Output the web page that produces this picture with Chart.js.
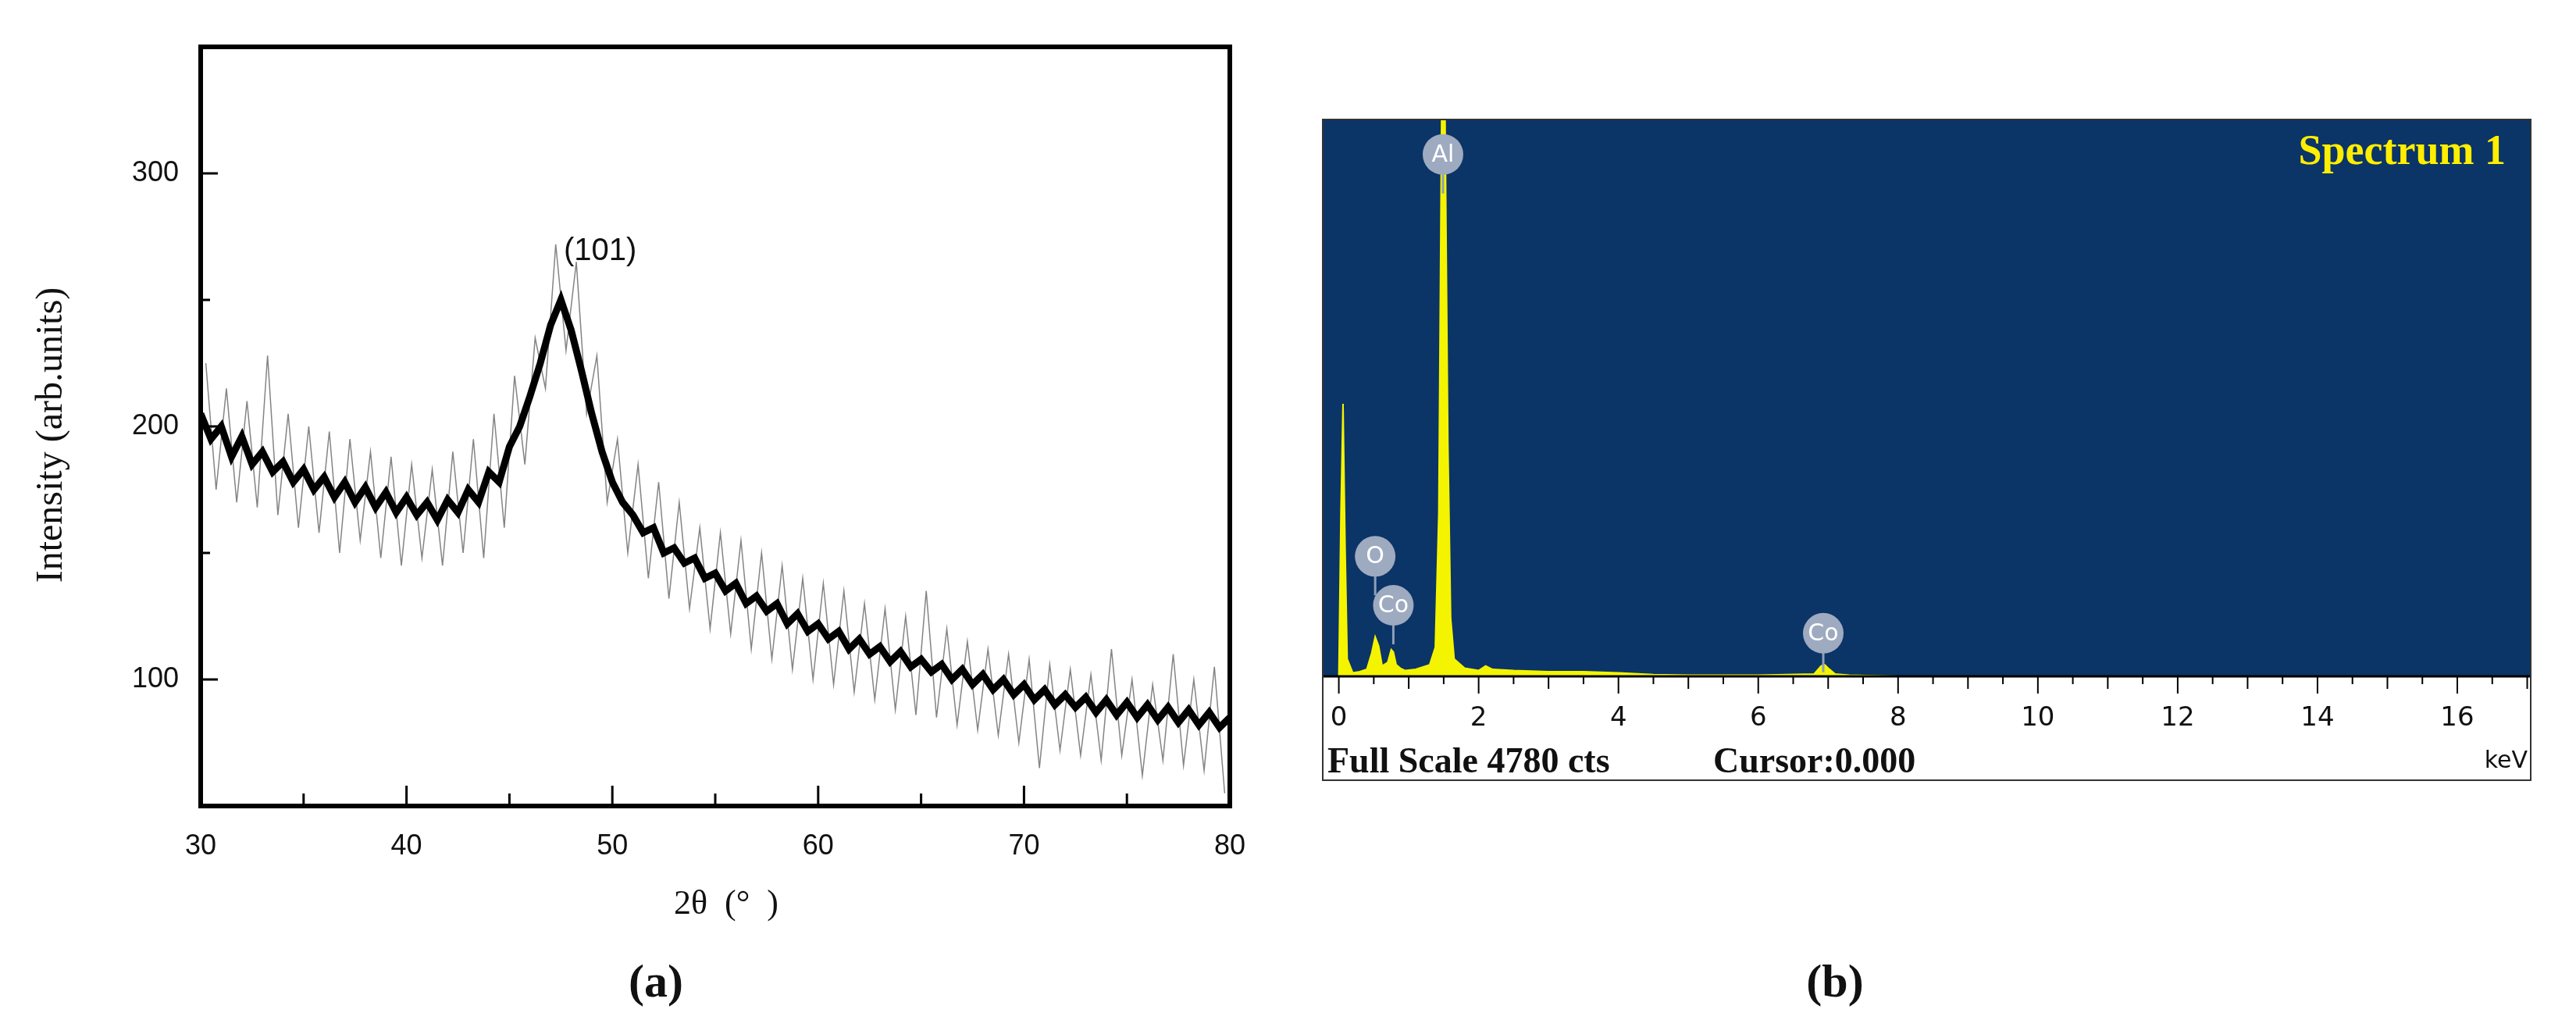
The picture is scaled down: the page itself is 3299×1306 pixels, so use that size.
<!DOCTYPE html>
<html><head><meta charset="utf-8">
<script src="https://cdn.jsdelivr.net/npm/chart.js@4/dist/chart.umd.min.js"></script>
<style>
html,body{margin:0;padding:0;background:#fff;}
#wrap{position:relative;width:3299px;height:1306px;}
canvas{position:absolute;top:0;}
</style></head><body>
<div id="wrap">
<canvas id="c1" style="left:0;width:1650px;height:1306px" width="1650" height="1306"></canvas>
<canvas id="c2" style="left:1650px;width:1649px;height:1306px" width="1649" height="1306"></canvas>
</div>
<script>
// ---------- XRD data (a) ----------
const xrdAngles = []; for (let i = 0; i <= 100; i++) xrdAngles.push(30 + i * 0.5);
const xrdIntensity = [
205,195,200,188,196,185,190,182,186,178,
183,175,180,172,178,170,176,168,174,166,
172,165,170,163,171,166,175,170,182,178,
192,200,212,225,240,250,238,222,205,190,
178,170,165,158,160,150,152,146,148,140,
142,135,138,130,133,127,130,122,126,119,
122,116,119,112,116,110,113,107,111,105,
108,103,106,100,104,98,102,96,100,94,
98,92,96,90,94,89,93,87,92,86,
91,85,90,84,89,83,88,82,87,81,85];
const xrdSpikeAngles = []; for (let i = 0; i < 100; i++) xrdSpikeAngles.push(30.25 + i * 0.5);
const xrdSpikes = [
225,175,215,170,210,168,228,165,205,160,
200,158,198,150,195,155,190,148,188,145,
185,148,183,145,190,150,195,148,205,160,
220,185,235,215,272,230,265,205,228,170,
195,150,185,140,178,132,170,128,160,120,
158,118,155,112,150,108,145,104,140,100,
138,98,135,95,130,92,128,88,125,86,
135,85,120,82,115,80,112,78,110,75,
108,65,106,72,104,70,102,68,112,70,
100,62,98,68,110,66,100,64,105,55];
const xrdXTicks = [30,40,50,60,70,80];
const xrdYTicks = [100,200,300];

// ---------- EDS data (b) ----------
const edsEnergy = [-0.1,0,0.03,0.06,0.09,0.12,0.2,0.3,0.4,0.47,0.52,0.57,0.62,0.7,0.75,0.78,0.82,0.88,0.95,1.1,1.3,1.38,1.43,1.47,1.49,1.52,1.56,1.6,1.65,1.8,2.0,2.1,2.2,2.5,3,3.5,4,4.5,5,6,6.8,6.9,6.95,7.0,7.1,7.3,8,10,17];
const edsCounts = [0,0,1400,2340,1100,150,30,40,60,200,340,260,90,120,230,210,100,70,50,60,100,250,1400,4780,4780,4780,2000,500,150,70,50,90,60,50,40,40,30,15,10,10,20,90,100,70,20,10,0,0,0];
const edsTickLabels = [0,2,4,6,8,10,12,14,16];
const edsElements = ['Al','O','Co','Co'];
const edsElementEnergy = [1.49,0.52,0.78,6.93];
const edsElementCounts = [4480,1030,610,370];

const frameXRD = {
  id:'frameXRD',
  afterDraw(c){
    const {ctx, chartArea:a, scales:{x,y}} = c;
    ctx.save();
    ctx.strokeStyle='#000'; ctx.lineWidth=3;
    for (let v=35; v<80; v+=5){ const px=x.getPixelForValue(v); const L=(v%10===0)?26:16;
      ctx.beginPath(); ctx.moveTo(px,a.bottom); ctx.lineTo(px,a.bottom-L); ctx.stroke(); }
    for (let v=100; v<=300; v+=50){ const py=y.getPixelForValue(v); const L=(v%100===0)?22:12;
      ctx.beginPath(); ctx.moveTo(a.left,py); ctx.lineTo(a.left+L,py); ctx.stroke(); }
    ctx.lineWidth=6; ctx.strokeRect(a.left,a.top,a.right-a.left,a.bottom-a.top);
    ctx.fillStyle='#111';
    ctx.font='40px "Liberation Sans", Arial'; ctx.textAlign='left'; ctx.textBaseline='middle';
    ctx.fillText('(101)', 722, 322);
    ctx.font='44px "Liberation Serif", serif'; ctx.textAlign='center';
    ctx.fillText('2\u03B8  (°  )', 930, 1158);
    ctx.font='bold 60px "Liberation Serif", serif';
    ctx.fillText('(a)', 840, 1260);
    ctx.save(); ctx.translate(66,557); ctx.rotate(-Math.PI/2);
    ctx.font='48px "Liberation Serif", serif'; ctx.fillText('Intensity (arb.units)',0,0); ctx.restore();
    ctx.restore();
  }
};

new Chart(document.getElementById('c1'), {
  type:'line',
  data:{datasets:[
    {data: xrdAngles.map((a,i)=>({x:a,y:xrdIntensity[i]})), borderColor:'#000', borderWidth:9, pointRadius:0, tension:0, order:1},
    {data: xrdSpikeAngles.map((a,i)=>({x:a,y:xrdSpikes[i]})), borderColor:'rgba(80,80,80,0.7)', borderWidth:1.5, pointRadius:0, tension:0, order:2}
  ]},
  options:{
    responsive:false, animation:false, devicePixelRatio:1,
    layout:{padding:{left:0, top:60, right:75, bottom:174}},
    plugins:{legend:{display:false}, tooltip:{enabled:false}},
    scales:{
      x:{type:'linear', min:30, max:80, grid:{display:false}, border:{display:false},
         afterBuildTicks(s){ s.ticks = xrdXTicks.map(v=>({value:v})); },
         afterFit(s){ s.height=100; },
         ticks:{color:'#111', font:{family:'"Liberation Sans", Arial', size:36}, padding:22, maxRotation:0}},
      y:{type:'linear', min:50, max:350, grid:{display:false}, border:{display:false},
         afterBuildTicks(s){ s.ticks = xrdYTicks.map(v=>({value:v})); },
         afterFit(s){ s.width=257; },
         ticks:{color:'#111', font:{family:'"Liberation Sans", Arial', size:36}, padding:20}}
    }
  },
  plugins:[frameXRD]
});

const edsDeco = {
  id:'edsDeco',
  beforeDraw(c){
    const {ctx, chartArea:a} = c;
    ctx.save();
    ctx.fillStyle='#fff'; ctx.fillRect(a.left, a.top, a.right-a.left, 999-153);
    ctx.fillStyle='#0b3467'; ctx.fillRect(a.left, a.top, a.right-a.left, a.bottom-a.top);
    ctx.restore();
  },
  afterDraw(c){
    const {ctx, chartArea:a, scales:{x,y}} = c;
    ctx.save();
    ctx.strokeStyle='#000'; ctx.lineWidth=3;
    ctx.beginPath(); ctx.moveTo(a.left,a.bottom); ctx.lineTo(a.right,a.bottom); ctx.stroke();
    ctx.lineWidth=2;
    for (let v=0; v<=17; v+=0.5){ const px=x.getPixelForValue(v); const L=(v%2===0)?22:(v%1===0?16:10);
      ctx.beginPath(); ctx.moveTo(px,a.bottom); ctx.lineTo(px,a.bottom+L); ctx.stroke(); }
    ctx.fillStyle='#111'; ctx.textAlign='center'; ctx.textBaseline='middle';
    ctx.font='34px "DejaVu Sans", sans-serif';
    edsTickLabels.forEach(v=>ctx.fillText(String(v), x.getPixelForValue(v), 920));
    ctx.textAlign='left'; ctx.font='bold 46px "Liberation Serif", serif';
    ctx.fillText('Full Scale 4780 cts', a.left+6, 977);
    ctx.fillText('Cursor:0.000', a.left+500, 977);
    ctx.textAlign='right'; ctx.font='30px "DejaVu Sans", sans-serif';
    ctx.fillText('keV', a.right-4, 975);
    ctx.strokeStyle='#333'; ctx.lineWidth=2; ctx.strokeRect(a.left, a.top, a.right-a.left, 999-a.top);
    ctx.fillStyle='#ffee00'; ctx.font='bold 54px "Liberation Serif", serif'; ctx.textAlign='right';
    ctx.fillText('Spectrum 1', a.right-32, 196);
    edsElements.forEach((el,i)=>{
      const px=x.getPixelForValue(edsElementEnergy[i]); const py=y.getPixelForValue(edsElementCounts[i]);
      ctx.strokeStyle='#8f9fb8'; ctx.lineWidth=3;
      ctx.beginPath(); ctx.moveTo(px,py); ctx.lineTo(px,py+50); ctx.stroke();
      ctx.fillStyle='#9eaac0'; ctx.beginPath(); ctx.arc(px,py,26,0,Math.PI*2); ctx.fill();
      ctx.fillStyle='#fff'; ctx.textAlign='center'; ctx.font='30px "DejaVu Sans", sans-serif';
      ctx.fillText(el, px, py+1);
    });
    ctx.fillStyle='#111'; ctx.font='bold 60px "Liberation Serif", serif'; ctx.textAlign='center';
    ctx.fillText('(b)', 2350-1650, 1260);
    ctx.restore();
  }
};

new Chart(document.getElementById('c2'), {
  type:'line',
  data:{datasets:[{data: edsEnergy.map((e,i)=>({x:e,y:edsCounts[i]})), borderColor:'#f4f400', backgroundColor:'#f4f400', fill:'origin', borderWidth:2, pointRadius:0, tension:0}]},
  options:{
    responsive:false, animation:false, devicePixelRatio:1,
    layout:{padding:{left:44, top:153, right:58, bottom:0}},
    plugins:{legend:{display:false}, tooltip:{enabled:false}},
    scales:{
      x:{type:'linear', min:-0.23, max:17.05, grid:{display:false}, border:{display:false}, ticks:{display:false},
         afterFit(s){ s.height=1306-866; }},
      y:{type:'linear', min:0, max:4780, display:false}
    }
  },
  plugins:[edsDeco]
});
</script>
</body></html>
